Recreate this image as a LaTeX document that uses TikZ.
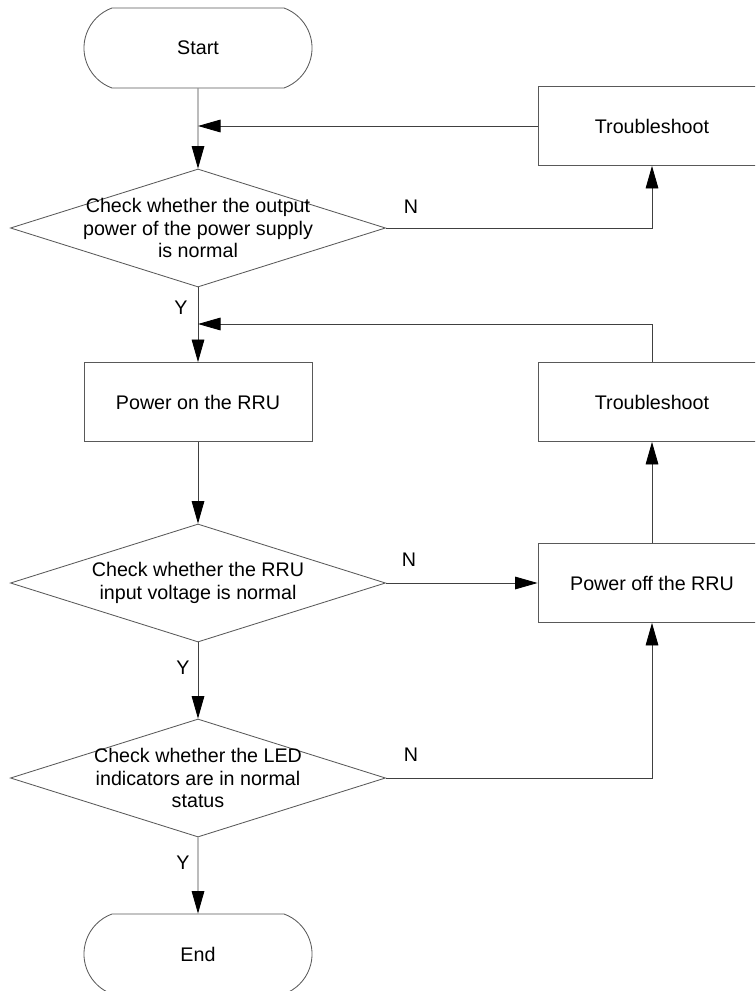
\documentclass[tikz,border=0pt]{standalone}
\usepackage{fontspec}
\setmainfont{Liberation Sans}
\usetikzlibrary{shapes.geometric,shapes.misc,arrows.meta}

\begin{document}
\begin{tikzpicture}[x=0.025cm,y=-0.025cm,
  font=\fontsize{14}{16.3}\selectfont,
  term/.style={rounded rectangle,rounded rectangle arc length=140,draw=black!65,line width=0.6pt,minimum width=5.7cm,minimum height=2cm,inner sep=0pt},
  proc/.style={rectangle,draw=black!65,line width=0.6pt,minimum width=5.7cm,minimum height=1.975cm,inner sep=0pt},
  dec/.style={diamond,draw=black!65,line width=0.6pt,shape aspect=3.2,minimum width=9.375cm,minimum height=2.95cm,inner sep=-1cm,align=center},
  flow/.style={draw=black!75,line width=0.6pt,-{Triangle[length=16pt,width=9pt,color=black]}},
  yn/.style={inner sep=0pt}]
\clip (0,0) rectangle (755,991);

\node[term] (start) at (198,48) {Start};
\node[proc] (ts1) at (652,126) {Troubleshoot};
\node[dec] (check1) at (198,228) {Check whether the output\\power of the power supply\\is normal};
\node[proc] (pon) at (198,402) {Power on the RRU};
\node[proc] (ts2) at (652,402) {Troubleshoot};
\node[dec] (check2) at (198,583) {Check whether the RRU\\input voltage is normal};
\node[proc] (poff) at (652,583) {Power off the RRU};
\node[dec] (check3) at (198,778) {Check whether the LED\\indicators are in normal\\status};
\node[term] (stop) at (198,954) {End};

\node[yn] (n1) at (411,207) {N};
\node[yn] (n2) at (409,560) {N};
\node[yn] (n3) at (411,755) {N};
\node[yn] (y1) at (181,308) {Y};
\node[yn] (y2) at (183,668) {Y};
\node[yn] (y3) at (183,863) {Y};

\coordinate (j1) at (198,126);
\coordinate (j2) at (198,324);

\draw[flow] (start) -- (check1);
\draw[flow] (ts1.west) -- (j1);
\draw[flow] (check1.east) -| (ts1.south);

\draw[flow] (check1) -- (pon);
\draw[flow] (ts2.north) |- (j2);
\draw[flow] (pon) -- (check2);

\draw[flow] (check2.east) -- (poff.west);
\draw[flow] (poff) -- (ts2);
\draw[flow] (check2) -- (check3);

\draw[flow] (check3.east) -| (poff.south);
\draw[flow] (check3) -- (stop);

\end{tikzpicture}
\end{document}
